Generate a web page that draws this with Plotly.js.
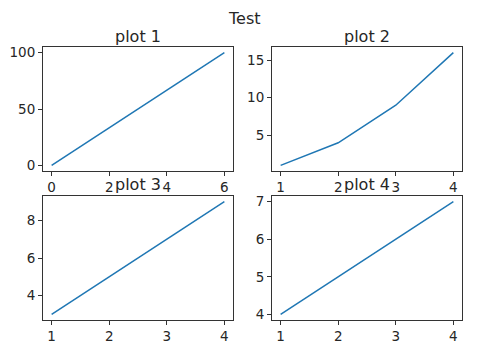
<!DOCTYPE html>
<html><head><meta charset="utf-8">
<script src="https://cdn.plot.ly/plotly-3.0.1.min.js"></script>
<style>html,body{margin:0;padding:0;background:#fff;}#c{width:487px;height:352px;}</style>
</head><body><div id="c"></div>
<script>
const x1 = [0, 6];
const y1 = [0, 100];
const x2 = [1, 2, 3, 4];
const y2 = [1, 4, 9, 16];
const x3 = [1, 2, 3, 4];
const y3 = [3, 5, 7, 9];
const x4 = [1, 2, 3, 4];
const y4 = [4, 5, 6, 7];
const subTitles = ["plot 1", "plot 2", "plot 3", "plot 4"];
const mainTitle = "Test";

const W = 487, H = 352;
const line = {color: '#1f77b4', width: 1.5};
const traces = [
  {x: x1, y: y1, xaxis: 'x', yaxis: 'y'},
  {x: x2, y: y2, xaxis: 'x2', yaxis: 'y2'},
  {x: x3, y: y3, xaxis: 'x3', yaxis: 'y3'},
  {x: x4, y: y4, xaxis: 'x4', yaxis: 'y4'}
].map(t => Object.assign(t, {type: 'scatter', mode: 'lines', line: line, showlegend: false, hoverinfo: 'skip'}));

function pad(a) { const mn = Math.min(...a), mx = Math.max(...a), d = (mx - mn) * 0.05; return [mn - d, mx + d]; }
const font = {family: 'DejaVu Sans', size: 13.5, color: '#262626'};
function ax(dom, rng, anchor, dtick) {
  return {domain: dom, range: rng, anchor: anchor, showgrid: false, zeroline: false,
    showline: true, mirror: true, linecolor: '#333', linewidth: 1,
    ticks: 'outside', ticklen: 4, tickwidth: 1, tickcolor: '#333',
    tickfont: font, dtick: dtick, tick0: 0, fixedrange: true};
}
// pixel geometry
const L1 = 43, R1 = 233, L2 = 272, R2 = 462;
const T1 = 47, B1 = 171, T2 = 196, B2 = 320;
const xd = (a, b) => [a / W, b / W];
const yd = (t, b) => [1 - b / H, 1 - t / H];

const layout = {
  width: W, height: H, margin: {l: 0, r: 0, t: 0, b: 0},
  paper_bgcolor: '#fff', plot_bgcolor: '#fff', font: font,
  xaxis: ax(xd(L1, R1), pad(x1), 'y', 2),
  yaxis: ax(yd(T1, B1), pad(y1), 'x', 50),
  xaxis2: ax(xd(L2, R2), pad(x2), 'y2', 1),
  yaxis2: ax(yd(T1, B1), pad(y2), 'x2', 5),
  xaxis3: ax(xd(L1, R1), pad(x3), 'y3', 1),
  yaxis3: ax(yd(T2, B2), pad(y3), 'x3', 2),
  xaxis4: ax(xd(L2, R2), pad(x4), 'y4', 1),
  yaxis4: ax(yd(T2, B2), pad(y4), 'x4', 1),
  annotations: [
    {text: mainTitle, x: 245 / W, y: 1 - 19 / H},
    {text: subTitles[0], x: (L1 + R1) / 2 / W, y: 1 - 36 / H},
    {text: subTitles[1], x: (L2 + R2) / 2 / W, y: 1 - 36 / H},
    {text: subTitles[2], x: (L1 + R1) / 2 / W, y: 1 - 185 / H},
    {text: subTitles[3], x: (L2 + R2) / 2 / W, y: 1 - 185 / H}
  ].map(a => Object.assign(a, {xref: 'paper', yref: 'paper', showarrow: false,
    xanchor: 'center', yanchor: 'middle', font: {family: 'DejaVu Sans', size: 16, color: '#262626'}}))
};
Plotly.newPlot('c', traces, layout, {staticPlot: true, displayModeBar: false});
</script></body></html>
